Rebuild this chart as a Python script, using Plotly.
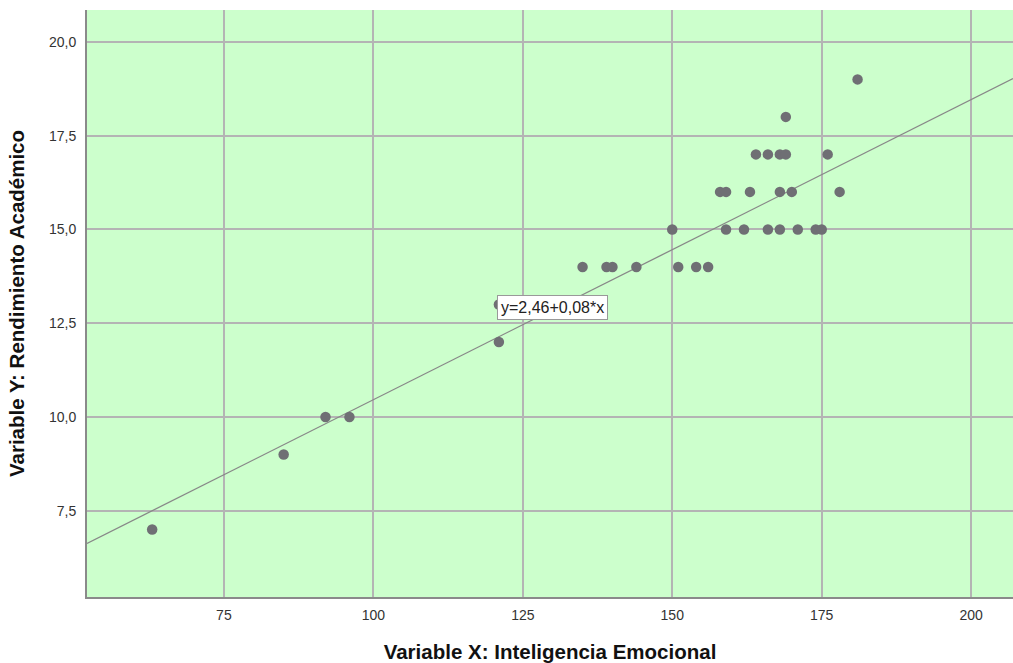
import plotly.graph_objects as go

# Data
x_ie = [63, 85, 92, 96, 121, 121, 135, 139, 140, 144, 150, 151, 154, 156,
        158, 159, 159, 162, 163, 164, 166, 166, 168, 168, 168, 169, 169,
        170, 171, 174, 175, 176, 178, 181]
y_ra = [7, 9, 10, 10, 13, 12, 14, 14, 14, 14, 15, 14, 14, 14,
        16, 16, 15, 15, 16, 17, 17, 15, 17, 16, 15, 17, 18,
        16, 15, 15, 15, 17, 16, 19]

intercept = 2.46
slope = 0.08
fit_label = "y=2,46+0,08*x"

x_range = [52.1, 207.0]
y_range = [5.2, 20.85]
x_ticks = [75, 100, 125, 150, 175, 200]
y_ticks = [7.5, 10.0, 12.5, 15.0, 17.5, 20.0]
y_ticklabels = ["7,5", "10,0", "12,5", "15,0", "17,5", "20,0"]

fig = go.Figure()

fit_x = [x_range[0], x_range[1]]
fit_y = [intercept + slope * v for v in fit_x]
fig.add_trace(go.Scatter(x=fit_x, y=fit_y, mode="lines",
                         line=dict(color="#888888", width=1.3),
                         hoverinfo="skip", showlegend=False))

fig.add_trace(go.Scatter(x=x_ie, y=y_ra, mode="markers",
                         marker=dict(color="#6f6f74", size=10.5, line=dict(width=0)),
                         showlegend=False))

fig.add_annotation(x=120.6, y=12.92, xanchor="left", yanchor="middle",
                   text=fit_label, showarrow=False,
                   font=dict(family="Liberation Sans, Arial", size=16, color="#222222"),
                   bgcolor="white", bordercolor="#999999", borderwidth=1, borderpad=3)

fig.update_layout(
    width=1013, height=663,
    margin=dict(l=87, r=0, t=10, b=66),
    paper_bgcolor="white",
    plot_bgcolor="#ccffcc",
    separators=",.",
    font=dict(family="Liberation Sans, Arial", size=14, color="#333333"),
    xaxis=dict(range=x_range, tickvals=x_ticks, showgrid=True,
               gridcolor="#b4b4b4", gridwidth=1.5, zeroline=False,
               showline=True, linecolor="#8a8a8a", linewidth=2,
               ticks="", ticklabelstandoff=4,
               title=dict(text="<b>Variable X: Inteligencia Emocional</b>",
                          font=dict(size=20.5, color="#111111"), standoff=24)),
    yaxis=dict(range=y_range, tickvals=y_ticks, ticktext=y_ticklabels,
               showgrid=True, gridcolor="#b4b4b4", gridwidth=1.5,
               zeroline=False, showline=True, linecolor="#8a8a8a", linewidth=2,
               ticks="", ticklabelstandoff=6,
               title=dict(text="<b>Variable Y: Rendimiento Académico</b>",
                          font=dict(size=20.5, color="#111111"), standoff=19)),
)

fig.write_html("out.html", config={"displayModeBar": False},
               post_script="document.body.style.margin='0';document.body.style.overflow='hidden';")
